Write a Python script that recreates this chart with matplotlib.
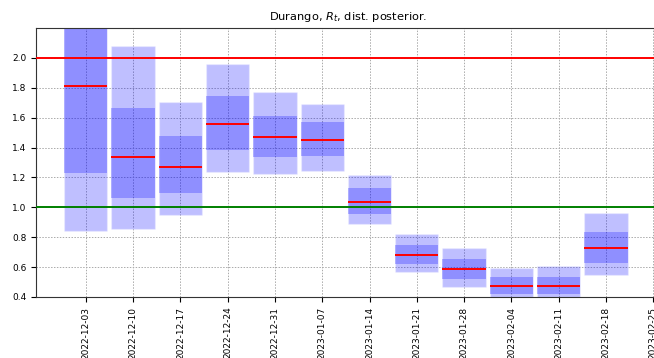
import matplotlib
matplotlib.use("Agg")
import matplotlib.pyplot as plt
import matplotlib.dates as mdates
import numpy as np
import pandas as pd

# semanas (fecha central de cada caja)
fechas = pd.date_range("2022-12-03", periods=12, freq="7D")

# cuantiles de la distribucion posterior de Rt
q_lo = [0.842, 0.855, 0.951, 1.237, 1.222, 1.246, 0.887, 0.566, 0.469, 0.37, 0.37, 0.550]
q_25 = [1.230, 1.065, 1.098, 1.386, 1.337, 1.344, 0.958, 0.621, 0.523, 0.420, 0.418, 0.628]
q_50 = [1.813, 1.335, 1.273, 1.556, 1.469, 1.449, 1.038, 0.679, 0.586, 0.476, 0.472, 0.726]
q_75 = [2.450, 1.667, 1.478, 1.746, 1.612, 1.570, 1.128, 0.746, 0.657, 0.534, 0.534, 0.837]
q_hi = [3.000, 2.082, 1.706, 1.958, 1.772, 1.692, 1.219, 0.820, 0.730, 0.596, 0.608, 0.965]

q_lo, q_25, q_50, q_75, q_hi = map(np.array, (q_lo, q_25, q_50, q_75, q_hi))
x = mdates.date2num(fechas)
ancho = 6.4

fig = plt.figure(figsize=(6.54, 3.58), dpi=100)
ax = fig.add_axes([36/654, 61/358, 624/654, 269/358])

ax.grid(True, linestyle=(0, (1.5, 1.5)), color="#aaaaaa", linewidth=0.7)
ax.set_axisbelow(True)

ax.bar(x, q_hi - q_lo, bottom=q_lo, width=ancho, color="blue", alpha=0.25,
       edgecolor="white", linewidth=1)
ax.bar(x, q_75 - q_25, bottom=q_25, width=ancho, color="blue", alpha=0.25,
       linewidth=0)
ax.hlines(q_50, x - ancho/2, x + ancho/2, color="red", linewidth=1.4, zorder=3)

ax.axhline(2.0, color="red", linewidth=1.4, zorder=4)
ax.axhline(1.0, color="green", linewidth=1.4, zorder=4)

ax.set_ylim(0.4, 2.2)
ax.set_xlim(mdates.date2num(pd.Timestamp("2022-11-25 15:00")),
            mdates.date2num(pd.Timestamp("2023-02-26")))
ax.set_yticks(np.arange(0.4, 2.01, 0.2))
ax.set_xticks(mdates.date2num(pd.date_range("2022-12-03", "2023-02-25", freq="7D")))
ax.xaxis.set_major_formatter(mdates.DateFormatter("%Y-%m-%d"))
ax.tick_params(axis="x", labelrotation=90, labelsize=6.5)
ax.tick_params(axis="y", labelsize=6.5)
for s in ax.spines.values():
    s.set_color("#333333")

ax.set_title("Durango, $R_t$, dist. posterior.", fontsize=8.2)

fig.savefig("out.png", dpi=100)
